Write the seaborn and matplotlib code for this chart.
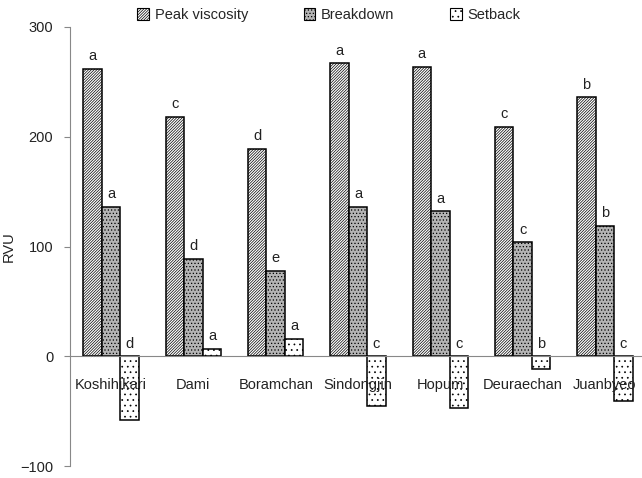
import matplotlib; matplotlib.use('Agg')
import matplotlib.pyplot as plt
import matplotlib.patches as mpatches
import seaborn as sns
import pandas as pd
import numpy as np

cultivars = ['Koshihikari', 'Dami', 'Boramchan', 'Sindongjin', 'Hopum', 'Deuraechan', 'Juanbyeo']
series    = ['Peak viscosity', 'Breakdown', 'Setback']
peak      = [262, 218, 189, 267, 264, 209, 236]
breakdown = [136, 89, 78, 136, 132, 104, 119]
setback   = [-58, 7, 16, -45, -47, -12, -41]
letters_peak  = ['a', 'c', 'd', 'a', 'a', 'c', 'b']
letters_break = ['a', 'd', 'e', 'a', 'a', 'c', 'b']
letters_set   = ['d', 'a', 'a', 'c', 'c', 'b', 'c']

sns.set_style('white')
plt.rcParams['font.family'] = ['Liberation Sans', 'DejaVu Sans']
plt.rcParams['hatch.linewidth'] = 0.5

df = pd.DataFrame({
    'Cultivar': cultivars * 3,
    'Series': [s for s in series for _ in cultivars],
    'RVU': peak + breakdown + setback,
})

fig = plt.figure(figsize=(6.42, 4.78), dpi=100)
ax = fig.add_axes([70/642, 1-466/478, 576/642, (466-27)/478])

sns.barplot(data=df, x='Cultivar', y='RVU', hue='Series', order=cultivars,
            hue_order=series, width=0.675, ax=ax, errorbar=None,
            edgecolor='black', linewidth=1.1, legend=False)

styles = [dict(fc='white', hatch='////////////'),
          dict(fc='#b4b4b4', hatch='.....'),
          dict(fc='white', hatch='...')]
for cont, st in zip(ax.containers, styles):
    for p in cont.patches:
        p.set_facecolor(st['fc'])
        p.set_hatch(st['hatch'])
        p.set_edgecolor('black')

# significance letters
for cont, labs in zip(ax.containers, [letters_peak, letters_break, letters_set]):
    for p, lab in zip(cont.patches, labs):
        xc = p.get_x() + p.get_width() / 2
        top = max(p.get_y() + p.get_height(), p.get_y(), 0)
        ax.annotate(lab, (xc, top), xytext=(0, 4), textcoords='offset points',
                    ha='center', va='bottom', fontsize=10.5, color='#222222')

ax.set_ylim(-100, 300)
ax.set_xlim(-0.5, 6.5)
ax.set_yticks([-100, 0, 100, 200, 300])
ax.set_ylabel('RVU', fontsize=10.5, color='#222222')
ax.yaxis.set_label_coords(-0.094, 0.5)
ax.set_xlabel('')
ax.set_axisbelow(False)

for s in ['top', 'right']:
    ax.spines[s].set_visible(False)
ax.spines['bottom'].set_position(('data', 0))
ax.spines['bottom'].set_color('#888888')
ax.spines['left'].set_color('#888888')

ax.set_xticks(np.arange(0.5, 6.5, 1), minor=True)
ax.tick_params(axis='x', which='major', length=0, pad=16, labelsize=10.5, labelcolor='#222222')
ax.tick_params(axis='x', which='minor', direction='in', length=4, color='#888888')
ax.tick_params(axis='y', direction='out', length=4, color='#888888', pad=8,
               labelsize=10.5, labelcolor='#222222')
ax.tick_params(left=True, bottom=True)

handles = [mpatches.Patch(facecolor=st['fc'], hatch=st['hatch'], edgecolor='black',
                          linewidth=0.8, label=s) for st, s in zip(styles, series)]
fig.legend(handles=handles, loc='center', bbox_to_anchor=(329/642, 1-15/478), ncol=3,
           frameon=False, fontsize=10.5, handlelength=0.8, handleheight=0.8,
           handletextpad=0.4, columnspacing=3.8)

fig.savefig('out.png', dpi=100)
